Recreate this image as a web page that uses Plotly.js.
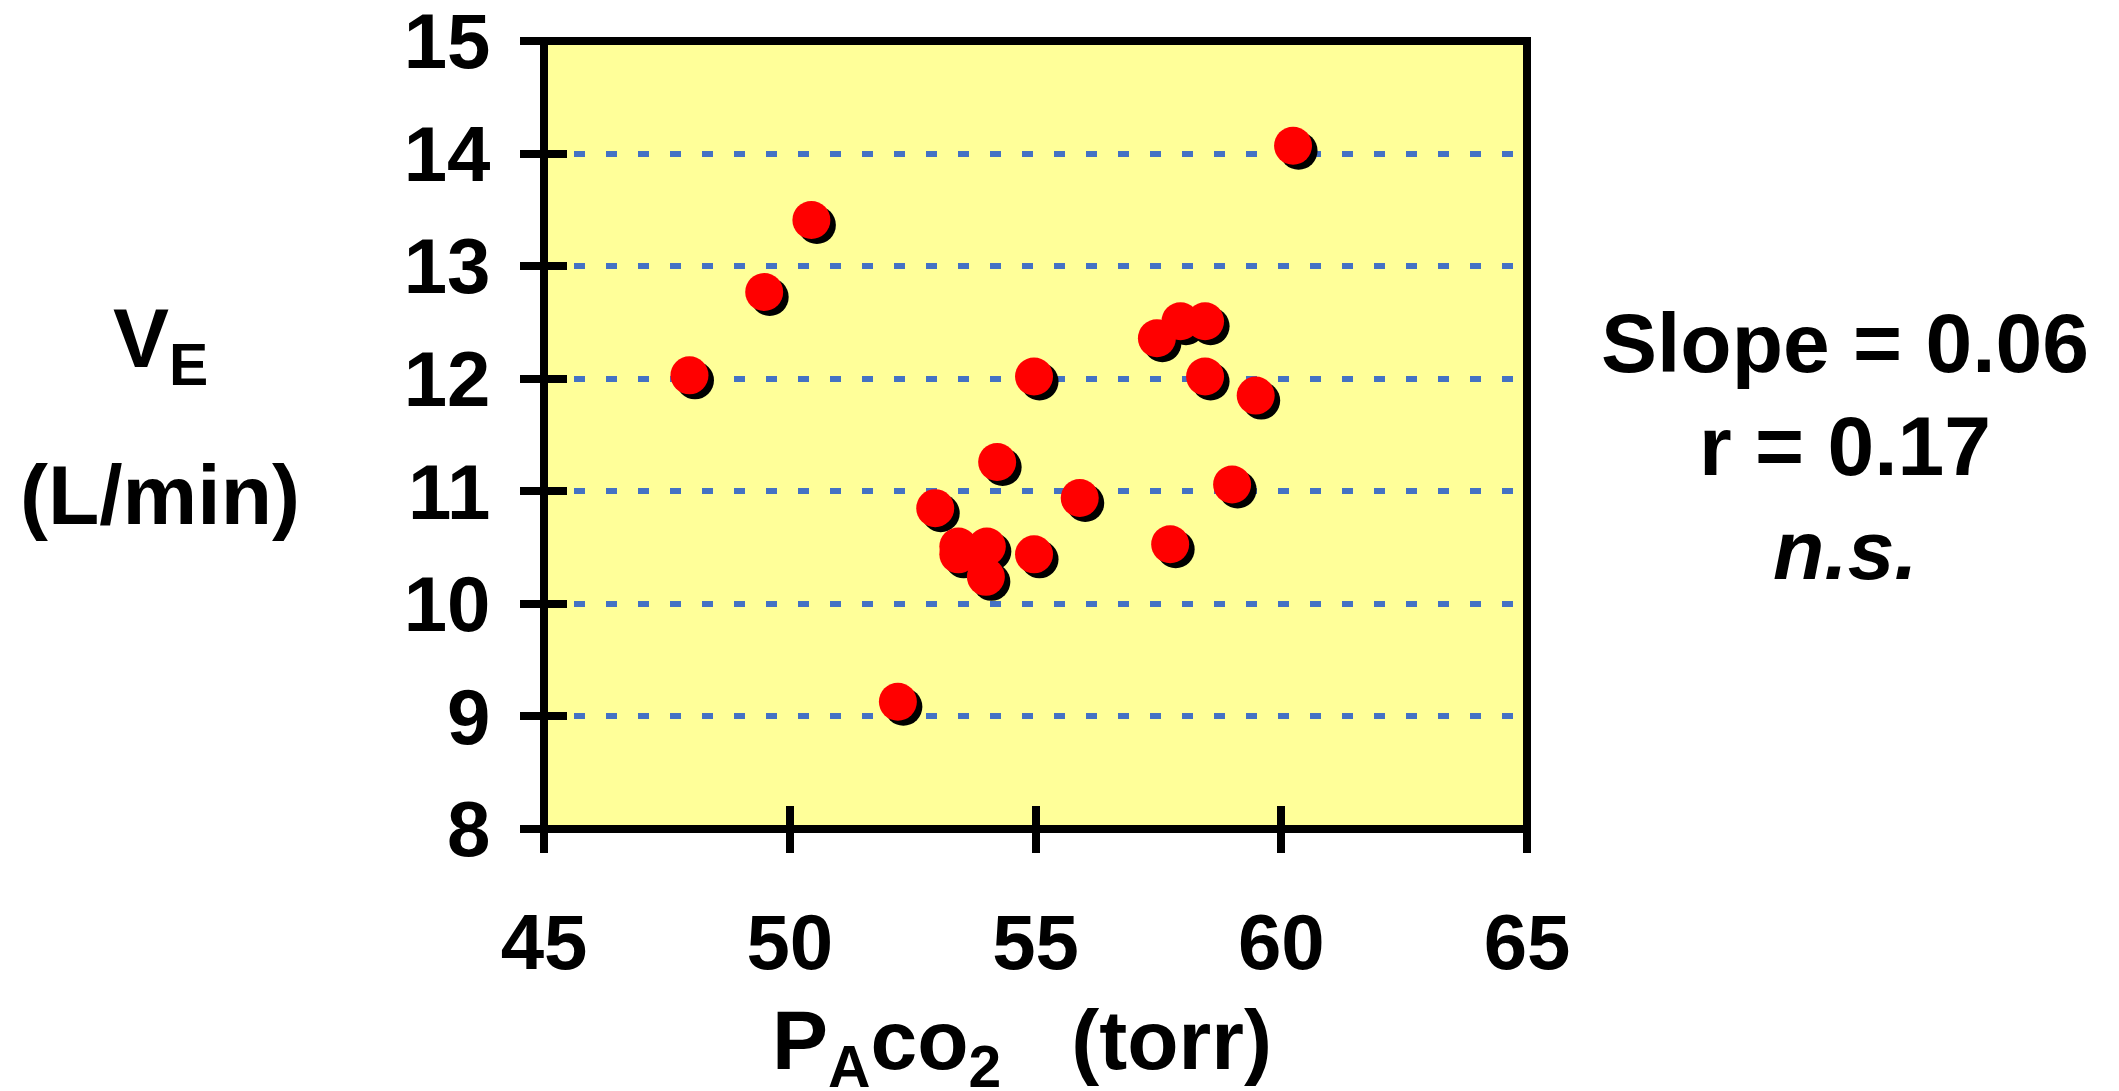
<!DOCTYPE html>
<html>
<head>
<meta charset="utf-8">
<script src="https://cdn.plot.ly/plotly-3.0.1.min.js"></script>
<style>
  html, body { margin: 0; padding: 0; background: #ffffff; }
  #chart { width: 2119px; height: 1091px; }
</style>
</head>
<body>
<div id="chart"></div>
<script>
// Alveolar PCO2 (torr) against minute ventilation (L/min), one point per subject
const paco2 = [47.96, 49.48, 50.44, 52.20, 52.96, 53.43, 53.43, 54.01, 53.99, 54.22, 54.97,
               54.97, 55.90, 57.47, 57.95, 58.45, 58.45, 57.74, 59.00, 59.48, 60.24];
const ventilation = [12.03, 12.77, 13.41, 9.13, 10.85, 10.51, 10.44, 10.51, 10.24, 11.26, 12.02,
                     10.44, 10.94, 12.36, 12.51, 12.51, 12.02, 10.53, 11.06, 11.85, 14.07];

const xTicks = [45, 50, 55, 60, 65];
const yTicks = [8, 9, 10, 11, 12, 13, 14, 15];
const xRange = [45, 65];
const yRange = [8, 15];

const statLines = ['Slope = 0.06', 'r = 0.17', '<i>n.s.</i>'];
const yTitleLines = ['V<sub>E</sub>', '(L/min)'];
const xTitle = 'P<sub>A</sub>co<sub>2</sub>&nbsp;&nbsp;&nbsp;(torr)';

// page and plot-area geometry (pixels)
const W = 2119, H = 1091;
const margin = { l: 544, r: 592, t: 41, b: 262, pad: 0 };
const plotW = W - margin.l - margin.r;
const plotH = H - margin.t - margin.b;

// drop shadow under every marker: offset in pixels, turned into axis units
const shadowDx = 5.5, shadowDy = 5;
const dxUnits = shadowDx * (xRange[1] - xRange[0]) / plotW;
const dyUnits = shadowDy * (yRange[1] - yRange[0]) / plotH;

const font = { family: 'Arial, "Liberation Sans", sans-serif', color: '#000000', weight: 'bold' };
const tickFont = Object.assign({}, font, { size: 78 });
const textFont = Object.assign({}, font, { size: 84 });

const markerSize = 38;

const traces = [
  // main subplot carries the labelled axes and the grid
  { x: [], y: [], type: 'scatter', mode: 'markers', xaxis: 'x', yaxis: 'y',
    hoverinfo: 'skip', showlegend: false },
  // black shadows, drawn first
  { x: paco2, y: ventilation, type: 'scatter', mode: 'markers', xaxis: 'x2', yaxis: 'y2',
    marker: { size: markerSize, color: '#000000', line: { width: 0 } },
    hoverinfo: 'skip', showlegend: false, cliponaxis: false },
  // red data points
  { x: paco2, y: ventilation, type: 'scatter', mode: 'markers', xaxis: 'x3', yaxis: 'y3',
    marker: { size: markerSize, color: '#ff0000', line: { width: 0 } },
    showlegend: false, cliponaxis: false }
];

const frameColor = '#000000';
const tickLen = 23, tickW = 8;

function px(v) { return (v - margin.l) / plotW; }
function py(v) { return (H - margin.b - v) / plotH; }

const annotations = [];
yTitleLines.forEach((t, i) => {
  annotations.push({ xref: 'paper', yref: 'paper', x: px(160), y: py([344, 495][i]),
    xanchor: 'center', yanchor: 'middle', text: t, showarrow: false, font: textFont });
});
annotations.push({ xref: 'paper', yref: 'paper', x: px(1022), y: py(1046),
  xanchor: 'center', yanchor: 'middle', text: xTitle, showarrow: false, font: textFont });
statLines.forEach((t, i) => {
  annotations.push({ xref: 'paper', yref: 'paper', x: px(1845), y: py([343, 446, 550][i]),
    xanchor: 'center', yanchor: 'middle', text: t, showarrow: false, font: textFont });
});

const layout = {
  width: W, height: H,
  margin: margin,
  paper_bgcolor: '#ffffff',
  plot_bgcolor: '#ffff99',
  showlegend: false,
  xaxis: {
    range: xRange, tickmode: 'array', tickvals: xTicks, ticktext: xTicks.map(String),
    ticks: 'outside', ticklen: tickLen, tickwidth: tickW, tickcolor: frameColor,
    showline: false, showgrid: false, zeroline: false, fixedrange: true,
    tickfont: tickFont, ticklabelstandoff: 22, ticklabeloverflow: 'allow'
  },
  yaxis: {
    range: yRange, tickmode: 'array', tickvals: yTicks, ticktext: yTicks.map(String),
    ticks: 'outside', ticklen: tickLen, tickwidth: tickW, tickcolor: frameColor,
    showline: false, zeroline: false, fixedrange: true,
    showgrid: true, gridcolor: '#4472c4', gridwidth: 6, griddash: '8.5px,21px,2.5px,0px',
    tickfont: tickFont, ticklabelstandoff: 14, ticklabeloverflow: 'allow'
  },
  xaxis2: { overlaying: 'x', range: [xRange[0] - dxUnits, xRange[1] - dxUnits], visible: false, fixedrange: true },
  yaxis2: { overlaying: 'y', range: [yRange[0] + dyUnits, yRange[1] + dyUnits], visible: false, fixedrange: true },
  xaxis3: {
    overlaying: 'x', range: xRange, tickmode: 'array', tickvals: xTicks,
    ticks: 'inside', ticklen: tickLen, tickwidth: tickW, tickcolor: frameColor,
    showticklabels: false, showline: false, showgrid: false, zeroline: false, fixedrange: true
  },
  yaxis3: {
    overlaying: 'y', range: yRange, tickmode: 'array', tickvals: yTicks,
    ticks: 'inside', ticklen: tickLen, tickwidth: tickW, tickcolor: frameColor,
    showticklabels: false, showline: false, showgrid: false, zeroline: false, fixedrange: true
  },
  shapes: [
    { type: 'rect', xref: 'paper', yref: 'paper', x0: 0, x1: 1, y0: 0, y1: 1,
      line: { color: frameColor, width: 8 }, fillcolor: 'rgba(0,0,0,0)', layer: 'above' }
  ],
  annotations: annotations
};

Plotly.newPlot('chart', traces, layout, { displayModeBar: false, staticPlot: true });
</script>
</body>
</html>
